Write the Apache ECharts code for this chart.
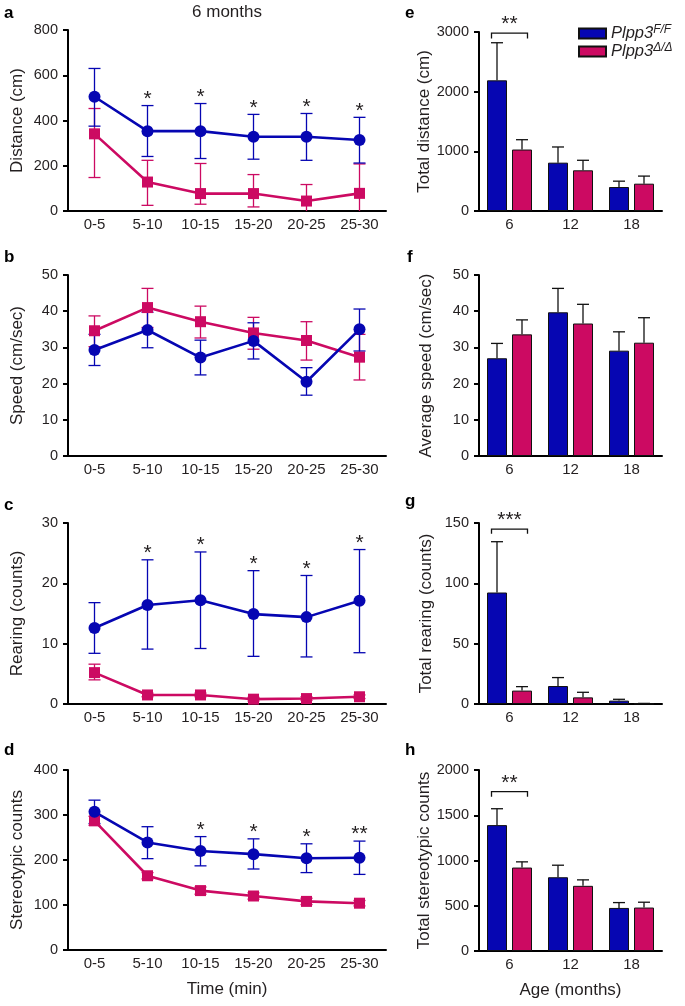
<!DOCTYPE html>
<html>
<head>
<meta charset="utf-8">
<script src="https://cdn.jsdelivr.net/npm/echarts@6/dist/echarts.min.js"></script>
<style>
html, body { margin: 0; padding: 0; background: #fff; }
#chart { width: 685px; height: 1006px; }
</style>
</head>
<body>
<div id="chart"></div>
<script>
// categories
const timeBins = ['0-5', '5-10', '10-15', '15-20', '20-25', '25-30']
const ages = ['6', '12', '18']

// a - distance per bin (mean, upper, lower)
const distFF = [505, 353, 353, 328, 328, 314]
const distFFHi = [630, 466, 475, 427, 431, 414]
const distFFLo = [375, 241, 232, 229, 224, 212]
const distDD = [341, 128, 77, 77, 44, 78]
const distDDHi = [453, 224, 210, 161, 117, 208]
const distDDLo = [148, 25, 30, 18, 0, 0]
const distStars = ['', '*', '*', '*', '*', '*']

// b - speed
const speedFF = [29.3, 34.8, 27.2, 31.8, 20.5, 35.0]
const speedFFHi = [33.6, 39.7, 32.0, 36.8, 24.4, 40.6]
const speedFFLo = [25.0, 29.9, 22.4, 26.8, 16.8, 29.0]
const speedDD = [34.6, 41.0, 37.1, 34.0, 31.9, 27.3]
const speedDDHi = [38.7, 46.3, 41.4, 38.3, 37.1, 33.6]
const speedDDLo = [30.2, 35.5, 32.6, 29.5, 26.5, 21.0]

// c - rearing
const rearFF = [12.6, 16.4, 17.2, 14.9, 14.4, 17.1]
const rearFFHi = [16.8, 23.9, 25.2, 22.1, 21.3, 25.6]
const rearFFLo = [8.4, 9.1, 9.2, 7.9, 7.8, 8.5]
const rearDD = [5.2, 1.5, 1.5, 0.8, 0.9, 1.2]
const rearDDHi = [6.6, 1.8, 1.8, 1.1, 1.2, 1.5]
const rearDDLo = [4.0, 1.2, 1.2, 0.5, 0.6, 0.9]
const rearStars = ['', '*', '*', '*', '*', '*']

// d - stereotypic counts
const stereoFF = [307, 239, 220, 213, 204, 205]
const stereoFFHi = [333, 274, 252, 247, 236, 242]
const stereoFFLo = [281, 203, 187, 180, 172, 168]
const stereoDD = [287, 165, 132, 120, 108, 104]
const stereoDDHi = [297, 172, 140, 127, 115, 110]
const stereoDDLo = [277, 158, 124, 113, 101, 98]
const stereoStars = ['', '', '*', '*', '*', '**']

// e-h totals by age (mean, upper)
const totDistFF = [2190, 810, 402]
const totDistFFHi = [2820, 1073, 500]
const totDistDD = [1030, 682, 458]
const totDistDDHi = [1195, 850, 585]

const avgSpeedFF = [27.0, 39.7, 29.1]
const avgSpeedFFHi = [31.1, 46.3, 34.3]
const avgSpeedDD = [33.6, 36.6, 31.3]
const avgSpeedDDHi = [37.6, 41.9, 38.2]

const totRearFF = [92.4, 14.9, 2.8]
const totRearFFHi = [134.5, 21.9, 3.9]
const totRearDD = [11.1, 5.5, 0.3]
const totRearDDHi = [14.4, 9.7, 0.5]

const totStereoFF = [1391, 815, 476]
const totStereoFFHi = [1572, 948, 535]
const totStereoDD = [922, 720, 480]
const totStereoDDHi = [985, 786, 539]

// significance brackets at age 6: [bracket value, tick end value, label]
const sigE = [2980, 2890, '**']
const sigG = [145, 141, '***']
const sigH = [1760, 1705, '**']

const FONT = '"Liberation Sans", Arial, Helvetica, sans-serif'
const INK = '#231f20'
const BLUE = '#0606b2'
const PINK = '#cc0a62'

const chart = echarts.init(document.getElementById('chart'))

const grids = [
  { left: 68, top: 30, width: 318, height: 181 },
  { left: 68, top: 275, width: 318, height: 181 },
  { left: 68, top: 523, width: 318, height: 181 },
  { left: 68, top: 770, width: 318, height: 180 },
  { left: 479, top: 32, width: 183, height: 179 },
  { left: 479, top: 275, width: 183, height: 181 },
  { left: 479, top: 523, width: 183, height: 181 },
  { left: 479, top: 770, width: 183, height: 181 }
]

const xAx = (gi, cats, name) => ({
  type: 'category', gridIndex: gi, data: cats,
  axisLine: { lineStyle: { color: '#000', width: 2 } },
  axisTick: { alignWithLabel: true, length: 5, lineStyle: { color: '#000', width: 2 } },
  axisLabel: { color: INK, fontSize: 15, fontFamily: FONT, margin: 6, interval: 0 },
  name: name, nameLocation: 'middle', nameGap: 31,
  nameTextStyle: { color: INK, fontSize: 17, fontFamily: FONT }
})

const yAx = (gi, max, interval, name, gap) => ({
  type: 'value', gridIndex: gi, min: 0, max: max, interval: interval,
  axisLine: { show: true, lineStyle: { color: '#000', width: 2 } },
  axisTick: { show: true, length: 5, lineStyle: { color: '#000', width: 2 } },
  axisLabel: { color: INK, fontSize: 14.5, fontFamily: FONT, margin: 10, formatter: (v) => String(v) },
  splitLine: { show: false },
  name: name, nameLocation: 'middle', nameGap: gap,
  nameTextStyle: { color: INK, fontSize: 17, fontFamily: FONT }
})

function lineSeries(gi, data, color, symbol, size) {
  return {
    type: 'line', xAxisIndex: gi, yAxisIndex: gi, data: data, z: 3,
    symbol: symbol, symbolSize: size, showAllSymbol: true,
    lineStyle: { color: color, width: 2.6 },
    itemStyle: { color: color }
  }
}

// vertical error bars; dx shifts onto a bar inside the category band
function errorBars(gi, lo, hi, color, dx, capLow) {
  return {
    type: 'custom', xAxisIndex: gi, yAxisIndex: gi, silent: true, z: 1,
    data: hi.map((h, i) => [i, lo[i], h]),
    encode: { x: 0, y: [1, 2] },
    renderItem: (params, api) => {
      const i = api.value(0)
      const a = api.coord([i, api.value(2)])
      const b = api.coord([i, api.value(1)])
      const x = a[0] + dx
      const st = { stroke: color, lineWidth: 1.3 }
      const kids = [
        { type: 'line', shape: { x1: x, y1: a[1], x2: x, y2: b[1] }, style: st },
        { type: 'line', shape: { x1: x - 6, y1: a[1], x2: x + 6, y2: a[1] }, style: st }
      ]
      if (capLow && api.value(1) > 0) {
        kids.push({ type: 'line', shape: { x1: x - 6, y1: b[1], x2: x + 6, y2: b[1] }, style: st })
      }
      return { type: 'group', children: kids }
    }
  }
}

function stars(gi, hi, marks) {
  return {
    type: 'custom', xAxisIndex: gi, yAxisIndex: gi, silent: true, z: 4,
    data: hi.map((h, i) => [i, h]),
    renderItem: (params, api) => {
      const p = api.coord([api.value(0), api.value(1)])
      return {
        type: 'text', x: p[0], y: p[1] + 4,
        style: { text: marks[params.dataIndex], fill: INK, fontSize: 21, fontFamily: FONT, align: 'center', verticalAlign: 'bottom' }
      }
    }
  }
}

function barSeries(gi, name, data, color) {
  return {
    type: 'bar', name: name, xAxisIndex: gi, yAxisIndex: gi, data: data, z: 2,
    barWidth: 20, barGap: '25%',
    itemStyle: { color: color, borderColor: '#111', borderWidth: 1 }
  }
}

function bracket(gi, sig) {
  return {
    type: 'custom', xAxisIndex: gi, yAxisIndex: gi, silent: true, z: 4,
    data: [[0, sig[0], sig[1]]],
    renderItem: (params, api) => {
      const p = api.coord([0, api.value(1)])
      const t = api.coord([0, api.value(2)])
      return {
        type: 'group',
        children: [
          {
            type: 'polyline',
            shape: { points: [[p[0] - 18, t[1]], [p[0] - 18, p[1]], [p[0] + 18, p[1]], [p[0] + 18, t[1]]] },
            style: { stroke: '#111', lineWidth: 1.3, fill: null }
          },
          {
            type: 'text', x: p[0], y: p[1] + 2,
            style: { text: sig[2], fill: INK, fontSize: 21, fontFamily: FONT, align: 'center', verticalAlign: 'bottom' }
          }
        ]
      }
    }
  }
}

const series = [
  barSeries(4, 'F/F', totDistFF, BLUE),
  barSeries(4, 'Δ/Δ', totDistDD, PINK),
  errorBars(4, totDistFF, totDistFFHi, '#111', -12.5, false),
  errorBars(4, totDistDD, totDistDDHi, '#111', 12.5, false),
  bracket(4, sigE),

  barSeries(5, 'F/F', avgSpeedFF, BLUE),
  barSeries(5, 'Δ/Δ', avgSpeedDD, PINK),
  errorBars(5, avgSpeedFF, avgSpeedFFHi, '#111', -12.5, false),
  errorBars(5, avgSpeedDD, avgSpeedDDHi, '#111', 12.5, false),

  barSeries(6, 'F/F', totRearFF, BLUE),
  barSeries(6, 'Δ/Δ', totRearDD, PINK),
  errorBars(6, totRearFF, totRearFFHi, '#111', -12.5, false),
  errorBars(6, totRearDD, totRearDDHi, '#111', 12.5, false),
  bracket(6, sigG),

  barSeries(7, 'F/F', totStereoFF, BLUE),
  barSeries(7, 'Δ/Δ', totStereoDD, PINK),
  errorBars(7, totStereoFF, totStereoFFHi, '#111', -12.5, false),
  errorBars(7, totStereoDD, totStereoDDHi, '#111', 12.5, false),
  bracket(7, sigH),

  errorBars(0, distDDLo, distDDHi, PINK, 0, true),
  errorBars(0, distFFLo, distFFHi, BLUE, 0, true),
  lineSeries(0, distDD, PINK, 'rect', 11),
  lineSeries(0, distFF, BLUE, 'circle', 12),
  stars(0, distFFHi, distStars),

  errorBars(1, speedDDLo, speedDDHi, PINK, 0, true),
  errorBars(1, speedFFLo, speedFFHi, BLUE, 0, true),
  lineSeries(1, speedDD, PINK, 'rect', 11),
  lineSeries(1, speedFF, BLUE, 'circle', 12),

  errorBars(2, rearDDLo, rearDDHi, PINK, 0, true),
  errorBars(2, rearFFLo, rearFFHi, BLUE, 0, true),
  lineSeries(2, rearDD, PINK, 'rect', 11),
  lineSeries(2, rearFF, BLUE, 'circle', 12),
  stars(2, rearFFHi, rearStars),

  errorBars(3, stereoDDLo, stereoDDHi, PINK, 0, true),
  errorBars(3, stereoFFLo, stereoFFHi, BLUE, 0, true),
  lineSeries(3, stereoDD, PINK, 'rect', 11),
  lineSeries(3, stereoFF, BLUE, 'circle', 12),
  stars(3, stereoFFHi, stereoStars)
]

// panel letters and title
const letters = [['a', 4, 18], ['b', 4, 262], ['c', 4, 510], ['d', 4, 755],
  ['e', 405, 18], ['f', 407, 262], ['g', 405, 506], ['h', 405, 755]]

const graphic = letters.map(([t, x, y]) => ({
  type: 'text', x: x, y: y + 4,
  style: { text: t, fill: '#000', fontSize: 17, fontWeight: 'bold', fontFamily: FONT, verticalAlign: 'bottom' }
}))
graphic.push({
  type: 'text', x: 227, y: 21,
  style: { text: '6 months', fill: INK, fontSize: 17, fontFamily: FONT, align: 'center', verticalAlign: 'bottom' }
})

const option = {
  animation: false,
  backgroundColor: '#fff',
  grid: grids,
  xAxis: [
    xAx(0, timeBins), xAx(1, timeBins), xAx(2, timeBins), xAx(3, timeBins, 'Time (min)'),
    xAx(4, ages), xAx(5, ages), xAx(6, ages), xAx(7, ages, 'Age (months)')
  ],
  yAxis: [
    yAx(0, 800, 200, 'Distance (cm)', 42),
    yAx(1, 50, 10, 'Speed (cm/sec)', 42),
    yAx(2, 30, 10, 'Rearing (counts)', 42),
    yAx(3, 400, 100, 'Stereotypic counts', 42),
    yAx(4, 3000, 1000, 'Total distance (cm)', 46),
    yAx(5, 50, 10, 'Average speed (cm/sec)', 44),
    yAx(6, 150, 50, 'Total rearing (counts)', 44),
    yAx(7, 2000, 500, 'Total stereotypic counts', 46)
  ],
  legend: {
    data: ['F/F', 'Δ/Δ'],
    orient: 'vertical', left: 573, top: 19,
    itemWidth: 27, itemHeight: 10, itemGap: 0,
    icon: 'rect', selectedMode: false,
    formatter: (n) => '{i|Plpp3}{s|' + n + '}',
    textStyle: {
      rich: {
        i: { fontSize: 16.5, fontStyle: 'italic', fontFamily: FONT, color: INK, lineHeight: 19 },
        s: { fontSize: 12, fontStyle: 'italic', fontFamily: FONT, color: INK, verticalAlign: 'top' }
      }
    }
  },
  graphic: graphic,
  series: series
}

chart.setOption(option)
</script>
</body>
</html>
